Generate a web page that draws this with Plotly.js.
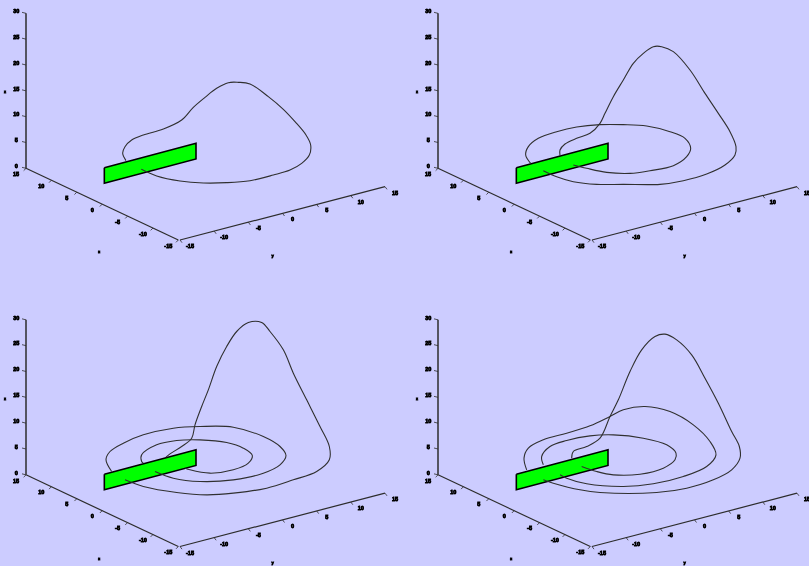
<!DOCTYPE html>
<html><head><meta charset="utf-8">
<script src="https://cdn.plot.ly/plotly-3.0.1.min.js"></script>
<style>html,body{margin:0;padding:0;background:#ccccff}#plot{width:809px;height:566px;filter:blur(0.45px)}
#plot .textpoint text{stroke:#000;stroke-width:0.8px}</style>
</head><body><div id="plot"></div>
<script>
// Projected orbit traces, view units (1/3 px)
const orbitP1 = [
 [[424,508],[470,528],[540,543],[610,549],[680,548],[750,542],[820,525],[870,510],[905,490],[928,465],[932,435],[918,405],[885,365],[850,328],[805,290],[750,252],[715,247],[685,248],[650,265],[615,292],[580,322],[545,360],[490,387],[430,405],[395,420],[375,440],[368,460],[378,482]]
];
const orbitP2 = [
 [[484,495],[524,505],[584,517],[654,520],[714,512],[784,497],[824,470],[836,445],[819,415],[774,395],[704,378],[634,374],[564,374],[494,381],[434,395],[379,415],[349,440],[341,465],[356,490]],
 [[394,512],[434,530],[484,545],[554,553],[634,553],[744,553],[814,542],[884,522],[939,495],[969,465],[972,440],[954,395],[919,340],[879,280],[834,210],[784,155],[749,140],[724,140],[694,160],[664,190],[634,240],[604,290],[579,340],[564,370],[534,400],[494,415],[459,432],[444,450],[444,467]]
];
const orbitP3 = [
 [[556,485],[570,490],[630,500],[700,490],[745,470],[757,447],[730,425],[680,408],[600,400],[530,402],[470,415],[425,445],[425,465],[430,470]],
 [[465,495],[520,515],[600,525],[700,520],[790,500],[840,475],[858,447],[840,420],[790,390],[700,362],[600,360],[520,365],[430,385],[370,410],[330,435],[318,460],[335,495]],
 [[375,520],[430,540],[530,558],[620,565],[700,560],[800,545],[880,520],[950,495],[988,460],[988,420],[960,360],[920,280],[880,200],[850,130],[810,75],[785,48],[745,48],[710,75],[680,120],[650,180],[625,250],[605,300],[585,355],[575,395],[545,420],[510,442],[498,452]]
];
const orbitP4 = [
 [[509,480],[554,495],[604,505],[684,503],[754,485],[789,460],[792,440],[764,415],[694,395],[604,385],[534,388],[464,402],[414,420],[389,450],[394,475]],
 [[444,505],[464,515],[524,532],[634,540],[724,532],[814,510],[884,480],[912,445],[894,405],[844,355],[774,315],[699,300],[634,310],[594,330],[534,358],[464,380],[394,400],[349,425],[336,455],[344,490]],
 [[394,520],[424,530],[504,550],[564,558],[734,558],[824,545],[904,520],[959,490],[984,455],[982,420],[959,375],[919,290],[879,215],[839,145],[794,100],[759,83],[729,90],[689,130],[654,195],[619,280],[594,330],[564,395],[524,420],[484,435],[479,455]]
];
const plate = [[313,503],[588,430],[588,477],[313,550],[313,503]];
const zTicks = [0,5,10,15,20,25,30];
const xTicks = [15,10,5,0,-5,-10,-15];
const yTicks = [-15,-10,-5,0,5,10,15];

// scene scaffold
const corner = [78,505], zEnd = [78,40], xEnd = [535,720], yStart = [540,720], yEnd = [1155,560];
const W = 397, H = 259.5;
const panels = [
  {dx:0,   dy:0,     orbit:orbitP1},
  {dx:412, dy:0,     orbit:orbitP2},
  {dx:0,   dy:306.5, orbit:orbitP3},
  {dx:412, dy:306.5, orbit:orbitP4}
];
const axisCol = '#2c2c2c';
const lerp = (a,b,t)=>[a[0]+(b[0]-a[0])*t, a[1]+(b[1]-a[1])*t];
const data = [], layout = {
  width:809, height:566, margin:{l:0,r:0,t:0,b:0,pad:0},
  paper_bgcolor:'#ccccff', plot_bgcolor:'#ccccff', showlegend:false, hovermode:false
};
panels.forEach((p,i)=>{
  const n = i ? String(i+1) : '';
  const xa='x'+n, ya='y'+n;
  layout['xaxis'+n] = {domain:[p.dx/809,(p.dx+W)/809], range:[0,W*3], visible:false, anchor:ya};
  layout['yaxis'+n] = {domain:[1-(p.dy+H)/566,1-p.dy/566], range:[H*3,0], visible:false, anchor:xa};
  const add = t => data.push(Object.assign({xaxis:xa,yaxis:ya,hoverinfo:'skip',cliponaxis:false},t));
  const lines = (pairs,w)=>add({mode:'lines',x:pairs.map(q=>q?q[0]:null),y:pairs.map(q=>q?q[1]:null),line:{color:axisCol,width:w},connectgaps:false});
  // axes
  lines([zEnd,corner],1.5);
  lines([corner,xEnd,null,yStart,yEnd],1.2);
  // ticks
  const tk=[];
  zTicks.forEach((v,k)=>{const q=lerp(corner,zEnd,k/(zTicks.length-1));tk.push(q,[q[0]-12,q[1]-3],null);});
  xTicks.forEach((v,k)=>{const q=lerp(corner,xEnd,k/(xTicks.length-1));tk.push(q,[q[0]-7,q[1]+7],null);});
  yTicks.forEach((v,k)=>{const q=lerp(yStart,yEnd,k/(yTicks.length-1));tk.push(q,[q[0]+6,q[1]+8],null);});
  lines(tk,0.8);
  // section plate
  add({mode:'lines',x:plate.map(q=>q[0]),y:plate.map(q=>q[1]),fill:'toself',fillcolor:'#00ff00',line:{color:'#000000',width:1.6}});
  // orbit
  p.orbit.forEach(seg=>add({mode:'lines',x:seg.map(q=>q[0]),y:seg.map(q=>q[1]),line:{color:'#303030',width:1.1,shape:'spline',smoothing:1}}));
  // tick labels
  const lab = (pts,txt,size)=>add({mode:'text',x:pts.map(q=>q[0]),y:pts.map(q=>q[1]),text:txt,textposition:'middle center',textfont:{family:'Liberation Sans',size:size,color:'#000000',weight:700}});
  lab(zTicks.map((v,k)=>{const q=lerp(corner,zEnd,k/(zTicks.length-1));return [q[0]-29,q[1]-5];}),zTicks.map(String),5.5);
  lab(xTicks.map((v,k)=>{const q=lerp(corner,xEnd,k/(xTicks.length-1));return [q[0]-30,q[1]+19];}),xTicks.map(String),5.5);
  lab(yTicks.map((v,k)=>{const q=lerp(yStart,yEnd,k/(yTicks.length-1));return [q[0]+30,q[1]+20];}),yTicks.map(String),5.5);
  lab([[15,276],[297,757],[818,768]],['z','x','y'],4);
});
Plotly.newPlot('plot',data,layout,{displayModeBar:false,staticPlot:true});
</script></body></html>
